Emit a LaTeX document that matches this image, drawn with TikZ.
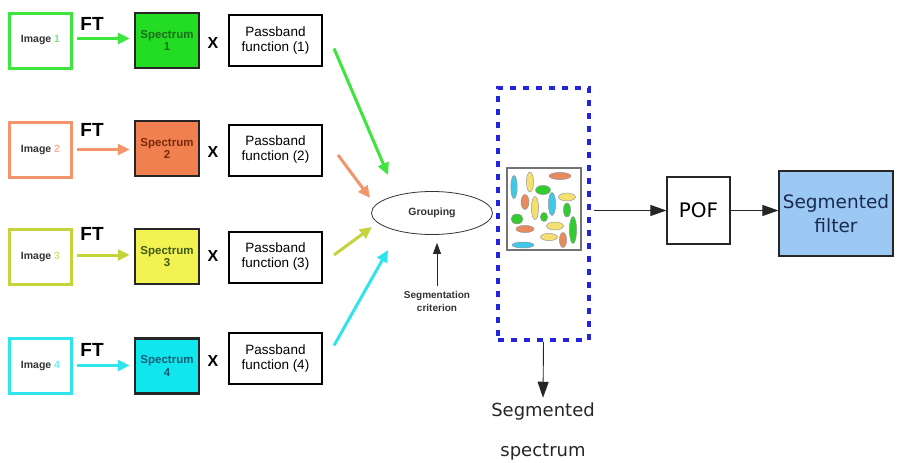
\documentclass[tikz,border=0pt]{standalone}
\usepackage{fontspec}
\setmainfont{Liberation Sans}
\newfontfamily\dejavu{DejaVu Sans}
\usetikzlibrary{arrows.meta,shapes.geometric}
\definecolor{cgreen}{HTML}{3CE63C}
\definecolor{corange}{HTML}{F4946A}
\definecolor{colive}{HTML}{C4D43A}
\definecolor{ccyan}{HTML}{30E4EE}
\definecolor{fgreen}{HTML}{22DD22}
\definecolor{forange}{HTML}{F08050}
\definecolor{fyellow}{HTML}{F2F250}
\definecolor{fcyan}{HTML}{10E6EE}
\definecolor{tgreen}{HTML}{1F6A1F}
\definecolor{torange}{HTML}{7A2808}
\definecolor{tyellow}{HTML}{3E5A14}
\definecolor{tcyan}{HTML}{125E74}
\definecolor{dblue}{HTML}{2424DD}
\definecolor{lblue}{HTML}{9CC8F4}
\definecolor{navy}{HTML}{1A2A50}
\definecolor{eyel}{HTML}{F4E070}
\definecolor{eora}{HTML}{E88A60}
\definecolor{egre}{HTML}{30CC30}
\definecolor{ecya}{HTML}{40C8E8}
\begin{document}
\begin{tikzpicture}[x=1pt,y=-1pt,
  imgbox/.style={rectangle,line width=3pt,fill=white,minimum width=62pt,minimum height=55pt,
    font=\bfseries\fontsize{10.5}{12}\selectfont,text=black!80},
  specbox/.style={rectangle,draw=black!85,line width=2.5pt,minimum width=64pt,minimum height=55pt,
    font=\bfseries\fontsize{11.5}{12.5}\selectfont,align=center},
  passbox/.style={rectangle,draw=black,line width=2pt,minimum width=93pt,minimum height=51pt,
    font=\fontsize{13.5}{15}\selectfont,align=center,inner sep=1pt},
  ftlab/.style={font=\bfseries\fontsize{19}{22}\selectfont},
  xlab/.style={font=\bfseries\fontsize{16}{19}\selectfont},
  carrow/.style={line width=3pt,-{Triangle[length=12pt,width=11pt]}},
  barrow/.style={line width=0.9pt,draw=black!85,-{Triangle[length=16pt,width=11pt]}},
  sarrow/.style={line width=0.8pt,draw=black!85,-{Triangle[length=11pt,width=8pt]}},
  blob/.style={draw=black!40,line width=0.5pt}
]
\useasboundingbox (0,0) rectangle (897,463);

% row 1
\node[imgbox,draw=cgreen] (im1) at (40.5,40.5) {Image \textcolor{cgreen!70}{1}};
\node[specbox,fill=fgreen,text=tgreen] (sp1) at (167,40.5) {Spectrum\\1};
\node[passbox] (pb1) at (275.5,40.5) {Passband\\function (1)};
\node[ftlab] (ft1) at (92,24) {FT};
\node[xlab] (x1) at (213,43) {X};
\draw[carrow,cgreen,shorten <=4pt,shorten >=4pt] ([yshift=2pt]im1.east) -- ([yshift=2pt]sp1.west);

% row 2
\node[imgbox,draw=corange] (im2) at (40.5,149.5) {Image \textcolor{corange!70}{2}};
\node[specbox,fill=forange,text=torange] (sp2) at (167,148.5) {Spectrum\\2};
\node[passbox] (pb2) at (275.5,150) {Passband\\function (2)};
\node[ftlab] (ft2) at (92,130) {FT};
\node[xlab] (x2) at (213,152) {X};
\draw[carrow,corange,shorten <=4pt,shorten >=4pt] (im2.east) -- (sp2.west|-im2.east);

% row 3
\node[imgbox,draw=colive] (im3) at (40.5,256.5) {Image \textcolor{colive!70}{3}};
\node[specbox,fill=fyellow,text=tyellow] (sp3) at (167,256.5) {Spectrum\\3};
\node[passbox] (pb3) at (275.5,257) {Passband\\function (3)};
\node[ftlab] (ft3) at (92,234) {FT};
\node[xlab] (x3) at (213,256) {X};
\draw[carrow,colive,shorten <=4pt,shorten >=4pt] ([yshift=1.5pt]im3.east) -- ([yshift=1.5pt]sp3.west);

% row 4
\node[imgbox,draw=ccyan] (im4) at (40.5,365.5) {Image \textcolor{ccyan!70}{4}};
\node[specbox,fill=fcyan,text=tcyan] (sp4) at (167,366) {Spectrum\\4};
\node[passbox] (pb4) at (275.5,358.5) {Passband\\function (4)};
\node[ftlab] (ft4) at (92,350) {FT};
\node[xlab] (x4) at (213,361) {X};
\draw[carrow,ccyan,shorten <=4pt,shorten >=4pt] (im4.east) -- (sp4.west|-im4.east);

% grouping
\node[ellipse,draw=black!80,line width=0.8pt,minimum width=121pt,minimum height=43pt,
  font=\bfseries\fontsize{10.5}{12}\selectfont,text=black!80] (grp) at (432,213) {Grouping};
\draw[carrow,cgreen] ([shift={(11,8)}]pb1.east) -- ([shift={(-44,-38)}]grp.center);
\draw[carrow,corange] ([shift={(15,5)}]pb2.east) -- ([shift={(-62,-15)}]grp.center);
\draw[carrow,colive] ([shift={(11,-2)}]pb3.east) -- ([shift={(-60,14)}]grp.center);
\draw[carrow,ccyan] ([shift={(11,-13)}]pb4.east) -- ([shift={(-44,37)}]grp.center);

\node[font=\bfseries\fontsize{10}{13}\selectfont,align=center,text=black!80] (crit) at (437,301) {Segmentation\\criterion};
\draw[sarrow,shorten <=1pt,shorten >=8pt] (crit.north) -- (crit.north|-grp.south);

% segmented spectrum box
\node[rectangle,draw=dblue,line width=3.5pt,dash pattern=on 6pt off 7pt,minimum width=91pt,minimum height=252pt] (segbox) at (543.5,214) {};
\node[rectangle,draw=black!55,line width=1.2pt,fill=white,minimum width=74pt,minimum height=82pt] (specimg) at (544,209) {};
\begin{scope}
\filldraw[blob,fill=ecya] (514,187) ellipse [x radius=3.2,y radius=11.5];
\filldraw[blob,fill=eyel] (530,182) ellipse [x radius=3.6,y radius=10];
\filldraw[blob,fill=eora] (560,176) ellipse [x radius=11,y radius=3.6];
\filldraw[blob,fill=egre] (543,190) ellipse [x radius=7.5,y radius=4.6];
\filldraw[blob,fill=eora] (525,202) ellipse [x radius=4,y radius=7.5];
\filldraw[blob,fill=eyel] (535,208) ellipse [x radius=3.6,y radius=11.5];
\filldraw[blob,fill=ecya] (552,204) ellipse [x radius=3.6,y radius=11.5];
\filldraw[blob,fill=eyel] (567,197) ellipse [x radius=8.5,y radius=4];
\filldraw[blob,fill=egre] (567,210) ellipse [x radius=3.6,y radius=7];
\filldraw[blob,fill=egre] (517,219) ellipse [x radius=6,y radius=5];
\filldraw[blob,fill=egre] (544,217) ellipse [x radius=3.6,y radius=4.6];
\filldraw[blob,fill=eyel] (555,226) ellipse [x radius=8.5,y radius=4];
\filldraw[blob,fill=eora] (525,229) ellipse [x radius=9,y radius=3.6];
\filldraw[blob,fill=egre] (573,230) ellipse [x radius=3.6,y radius=13.5];
\filldraw[blob,fill=eyel] (549,237) ellipse [x radius=8.5,y radius=3.6];
\filldraw[blob,fill=eora] (563,240) ellipse [x radius=3.6,y radius=7.5];
\filldraw[blob,fill=ecya] (523,245) ellipse [x radius=11,y radius=3];
\end{scope}

% POF and segmented filter
\node[rectangle,draw=black!85,line width=1.2pt,minimum width=63pt,minimum height=67pt,
  font=\dejavu\fontsize{20}{22}\selectfont] (pof) at (698.5,210.5) {POF};
\node[rectangle,draw=black!85,line width=1.2pt,fill=lblue,minimum width=114pt,minimum height=85pt,
  font=\dejavu\fontsize{18.5}{24}\selectfont,text=navy,align=center] (segf) at (836,213.5) {Segmented\\filter};
\draw[barrow,shorten <=3pt] (segbox.east|-pof.west) -- (pof.west);
\draw[barrow] (pof.east) -- (segf.west|-pof.east);

\node[font=\dejavu\fontsize{18}{40}\selectfont,align=center,text=black!85] (segtxt) at (543,432) {Segmented\\spectrum};
\draw[barrow,shorten >=2pt] (segbox.south) -- (segtxt.north);
\end{tikzpicture}
\end{document}
